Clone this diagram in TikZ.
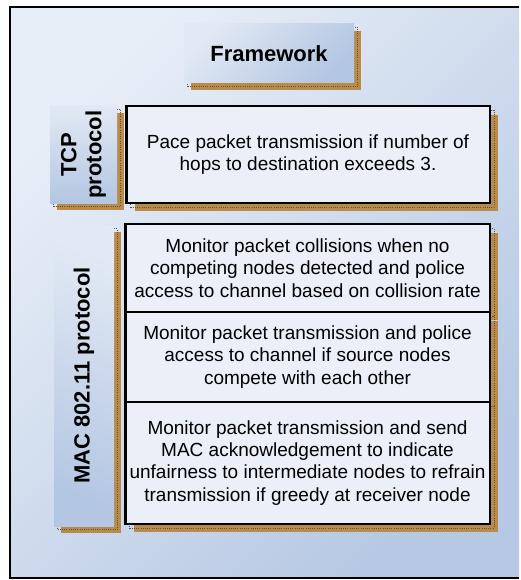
\documentclass[tikz,border=0pt]{standalone}
\usepackage{fontspec}
\setmainfont{Liberation Sans}
\usetikzlibrary{shadows}
\definecolor{bgA}{HTML}{E8EEF7}
\definecolor{bgB}{HTML}{B6C8E3}
\definecolor{lblA}{HTML}{E2E9F4}
\definecolor{lblB}{HTML}{B3C6E2}
\definecolor{boxfill}{HTML}{EAEFF8}
\definecolor{shbrown}{HTML}{B98B4A}
\definecolor{shdot}{HTML}{5E5440}
\tikzset{
  brownshadow/.style 2 args={
    general shadow={fill=shbrown, shadow xshift=#1, shadow yshift=#2},
    general shadow={draw=shdot, line width=0.9pt, dash pattern=on 1pt off 1.2pt, fill=none,
      shadow xshift=0.5*#1, shadow yshift=0.5*#2}},
  lblbox/.style={inner sep=0pt, align=center,
    font=\fontsize{22}{25}\selectfont\bfseries},
  txtbox/.style={brownshadow={8.5pt}{-8.5pt}, draw=black, line width=2.5pt, fill=boxfill,
    inner sep=0pt, align=center, minimum width=364.5pt,
    font=\fontsize{19}{22.3}\selectfont},
}
\begin{document}
\begin{tikzpicture}[x=1pt,y=-1pt]
\fill[white] (0,0) rectangle (519,580);
\shade[top color=bgA, bottom color=bgB, shading angle=45] (10,7) rectangle (519,578);
\draw[line width=2.6pt] (519,7) -- (10,7) -- (10,578) -- (519,578);
\useasboundingbox (0,0) rectangle (519,580);
% Framework
\node[lblbox, brownshadow={7pt}{-7pt}, minimum width=170pt, minimum height=59pt,
  top color=lblA, bottom color=lblB, shading angle=45] (fw) at (269,53.5) {Framework};
% TCP
\node[lblbox, brownshadow={7pt}{-7pt}, minimum width=97pt, minimum height=67pt,
  top color=lblA, bottom color=lblB, rotate=90] (tcpl) at (83.5,154.5) {TCP\\protocol};
\node[txtbox, minimum width=363.5pt, minimum height=96.5pt] (tcpb) at (308,154.5)
  {Pace packet transmission if number of\\hops to destination exceeds 3.};
% MAC
\node[lblbox, brownshadow={6.5pt}{-7pt}, minimum width=301pt, minimum height=60pt,
  top color=lblA, bottom color=lblB, shading angle=-20, rotate=90] (macl) at (84,375.5) {MAC 802.11 protocol};
\node[txtbox, minimum height=87.75pt] (mac1) at (307.5,268.1)
  {Monitor packet collisions when no\\competing nodes detected and police\\access to channel based on collision rate};
\node[txtbox, minimum height=90pt] (mac2) at (307.5,357)
  {Monitor packet transmission and police\\access to channel if source nodes\\compete with each other};
\node[txtbox, minimum height=121.75pt] (mac3) at (307.5,462.9)
  {Monitor packet transmission and send\\MAC acknowledgement to indicate\\unfairness to intermediate nodes to refrain\\transmission if greedy at receiver node};
\end{tikzpicture}
\end{document}
